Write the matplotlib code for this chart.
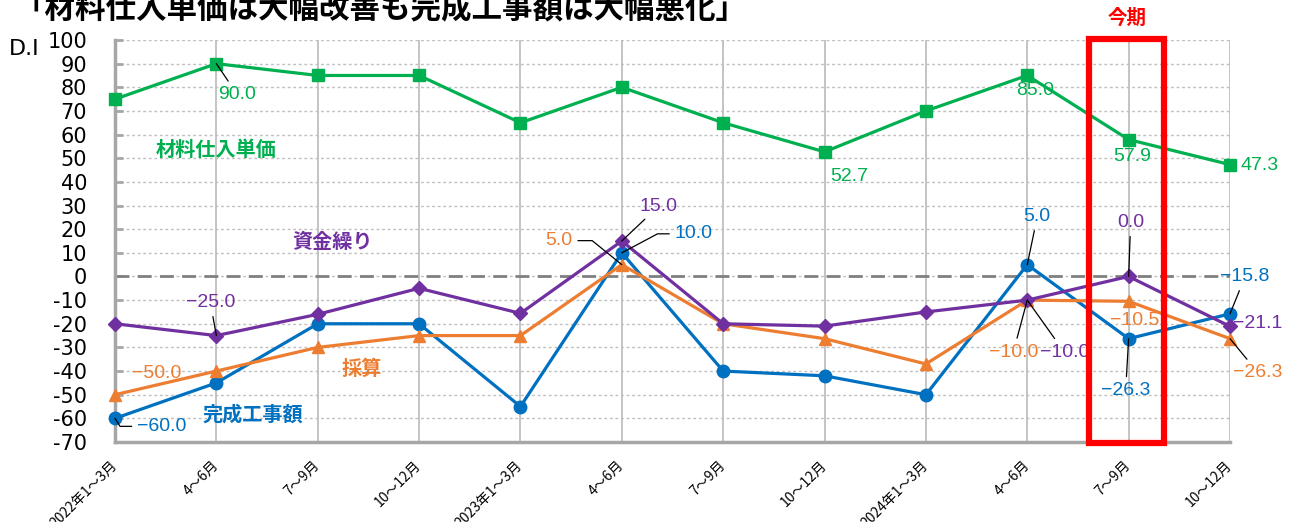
import matplotlib
matplotlib.use('Agg')
import matplotlib.pyplot as plt
from matplotlib.patches import Rectangle

plt.rcParams['font.family'] = ['DejaVu Sans', 'Noto Sans CJK JP']

# ================= データ =================
periods = ['2022年1～3月', '4～6月', '7～9月', '10～12月',
           '2023年1～3月', '4～6月', '7～9月', '10～12月',
           '2024年1～3月', '4～6月', '7～9月', '10～12月']
material = [75, 90, 85, 85, 65, 80, 65, 52.7, 70, 85, 57.9, 47.3]      # 材料仕入単価
funding = [-20, -25, -16, -5, -15.6, 15, -20, -21, -15, -10, 0, -21.1]  # 資金繰り
profit = [-50, -40, -30, -25, -25, 5, -20, -26.3, -37, -10, -10.5, -26.3]  # 採算
completed = [-60, -45, -20, -20, -55, 10, -40, -42, -50, 5, -26.3, -15.8]  # 完成工事額
current_idx = 10  # 今期

GREEN = '#00B050'
PURPLE = '#7030A0'
ORANGE = '#ED7D31'
BLUE = '#0070C0'

# ラベル位置（pixel offset, leader line, connection style）
lab_material = {1: (21, -31, True, None), 7: (25, -25, False, None), 9: (8, -15, False, None),
                10: (4, -17, False, None), 11: (30, -1, False, None)}
lab_funding = {1: (-6, 33, True, None), 5: (37, 35, True, None), 9: (37, -52, True, None),
               10: (2, 54, True, None), 11: (28, 3, False, None)}
lab_profit = {0: (42, 21, False, None), 5: (-63, 24, True, 'angle,angleA=0,angleB=-39,rad=0'),
              9: (-14, -52, True, None), 10: (6, -19, False, None), 11: (28, -34, True, None)}
lab_completed = {0: (47, -8, True, 'angle,angleA=0,angleB=-58,rad=0'),
                 5: (72, 19, True, 'angle,angleA=0,angleB=28,rad=0'),
                 9: (10, 48, True, None), 10: (-3, -52, True, None), 11: (15, 37, True, None)}

fig = plt.figure(figsize=(12.89, 5.22), dpi=100)
ax = fig.add_axes([115 / 1289, 1 - 442 / 522, 1115 / 1289, 402 / 522])

x = list(range(len(periods)))

ax.plot(x, completed, color=BLUE, lw=2.3, marker='o', ms=9, clip_on=False, zorder=4)
ax.plot(x, profit, color=ORANGE, lw=2.3, marker='^', ms=9, clip_on=False, zorder=5)
ax.plot(x, funding, color=PURPLE, lw=2.3, marker='D', ms=7, clip_on=False, zorder=6)
ax.plot(x, material, color=GREEN, lw=2.3, marker='s', ms=8, clip_on=False, zorder=7)


def fmt(v):
    return f'{v:.1f}'.replace('-', '−')


def put_labels(values, labels, color):
    for i, (dx, dy, leader, conn) in labels.items():
        props = None
        if leader:
            props = dict(arrowstyle='-', color='black', lw=0.9, shrinkA=2, shrinkB=0)
            if conn:
                props['connectionstyle'] = conn
        ax.annotate(fmt(values[i]), xy=(i, values[i]), xytext=(dx, dy),
                    textcoords='offset pixels', ha='center', va='center',
                    fontsize=14, color=color, family=['Liberation Sans', 'DejaVu Sans'],
                    arrowprops=props, annotation_clip=False, zorder=10)


put_labels(material, lab_material, GREEN)
put_labels(funding, lab_funding, PURPLE)
put_labels(profit, lab_profit, ORANGE)
put_labels(completed, lab_completed, BLUE)

# 系列名
ax.text(1.0, 53.9, '材料仕入単価', color=GREEN, fontsize=14.5, fontweight='bold',
        family='Noto Sans CJK JP', ha='center', va='center')
ax.text(2.15, 14.6, '資金繰り', color=PURPLE, fontsize=14.5, fontweight='bold',
        family='Noto Sans CJK JP', ha='center', va='center')
ax.text(2.43, -39.1, '採算', color=ORANGE, fontsize=14.5, fontweight='bold',
        family='Noto Sans CJK JP', ha='center', va='center')
ax.text(1.36, -58.1, '完成工事額', color=BLUE, fontsize=14.5, fontweight='bold',
        family='Noto Sans CJK JP', ha='center', va='center')

# 軸
ax.set_xlim(0, len(periods) - 1)
ax.set_ylim(-70, 100)
yt = list(range(-70, 101, 10))
ax.set_yticks(yt)
ax.set_yticklabels([str(v) for v in yt], fontsize=15)
ax.tick_params(axis='y', direction='in', length=6, width=2, color='#A6A6A6', pad=20)
ax.set_xticks(x)
ax.set_xticklabels(periods, rotation=45, ha='right', va='center', rotation_mode='anchor',
                   fontsize=10, family='Noto Sans CJK JP')
ax.tick_params(axis='x', length=0, pad=15)

ax.yaxis.grid(True, color='#BFBFBF', linestyle=(0, (2, 2)), lw=1)
ax.xaxis.grid(True, color='#BFBFBF', linestyle='-', lw=1.3)
ax.set_axisbelow(True)
ax.axhline(0, color='#808080', lw=2, ls=(0, (5, 3)), zorder=1)

for s in ['top', 'right']:
    ax.spines[s].set_visible(False)
for s in ['left', 'bottom']:
    ax.spines[s].set_color('#A6A6A6')
    ax.spines[s].set_linewidth(2.5)

# 今期の枠
ax.add_patch(Rectangle((current_idx - 0.39, -70.4), 0.74, 170.8, fill=False,
                       edgecolor='#FF0000', lw=4.5, clip_on=False, zorder=12))
ax.text(current_idx - 0.02, 109.3, '今期', color='#FF0000', fontsize=14, fontweight='bold',
        family='Noto Sans CJK JP', ha='center', va='center', clip_on=False)

fig.text(24 / 1289, 1 - 49 / 522, 'D.I', fontsize=16, ha='center', va='center')
fig.text(14 / 1289, 1 - 18 / 522, '「材料仕入単価は大幅改善も完成工事額は大幅悪化」',
         fontsize=22, fontweight='bold', family='Noto Sans CJK JP', ha='left', va='baseline')

fig.savefig('out.png', dpi=100)
